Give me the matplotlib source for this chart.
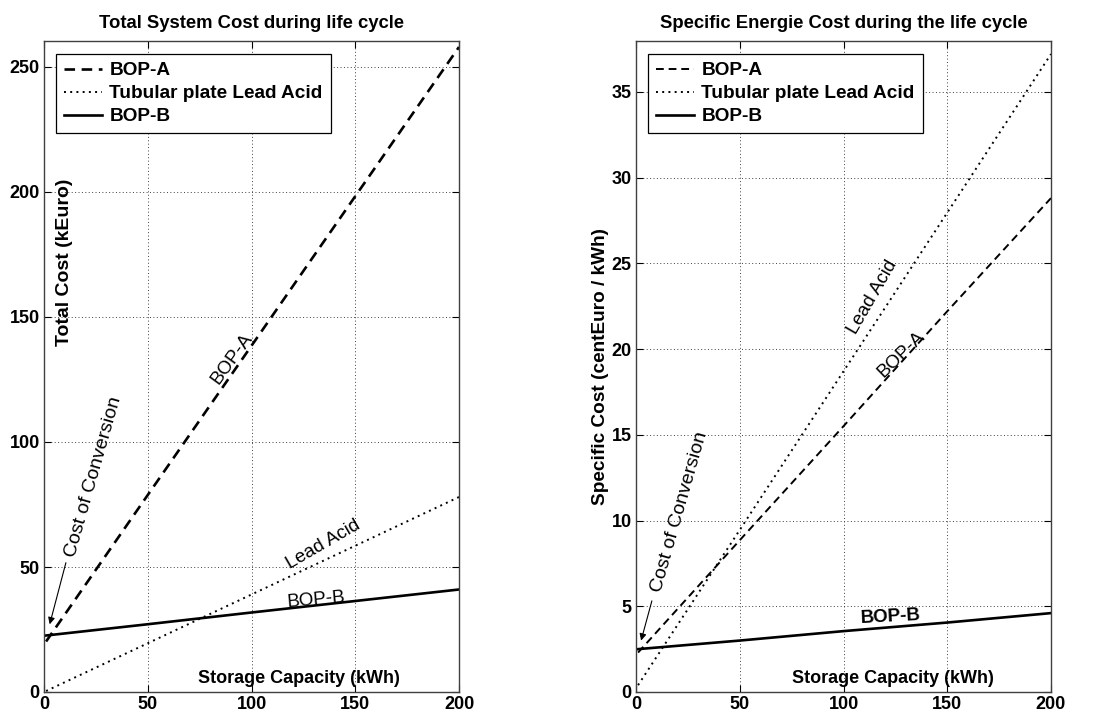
import matplotlib
matplotlib.use("Agg")
import matplotlib.pyplot as plt

plt.rcParams['font.family'] = ['Liberation Sans', 'DejaVu Sans']
plt.rcParams['font.weight'] = 'bold'

# ---- data ----
capacity = [1, 50, 100, 150, 200]

# Total system cost (kEuro)
total_bop_a = [20.2, 78.8, 138.5, 198.3, 258.0]
total_lead = [0.4, 19.5, 39.0, 58.5, 78.0]
total_bop_b = [22.6, 27.1, 31.8, 36.4, 41.0]

# Specific cost (centEuro / kWh)
spec_bop_a = [2.3, 8.85, 15.5, 22.2, 28.8]
spec_lead = [0.4, 9.45, 18.7, 27.95, 37.2]
spec_bop_b = [2.5, 3.0, 3.55, 4.05, 4.6]

legend_labels = ['BOP-A', 'Tubular plate Lead Acid', 'BOP-B']
xticks = [0, 50, 100, 150, 200]
yticks_left = [0, 50, 100, 150, 200, 250]
yticks_right = [0, 5, 10, 15, 20, 25, 30, 35]

fig = plt.figure(figsize=(10.93, 7.13), dpi=100)
ax1 = fig.add_axes([44/1093, 1-692/713, 415/1093, 651/713])
ax2 = fig.add_axes([636/1093, 1-692/713, 415/1093, 651/713])

dash = (0, (4, 2.5))
dot = (0, (1, 2.2))
grid_ls = (0, (1, 2.5))

TICK_FS = 13
LEG_FS = 13.7
ANN_FS = 13.5


def style(ax, yticks, ylim):
    ax.set_xlim(0, 200)
    ax.set_ylim(*ylim)
    ax.set_xticks(xticks)
    ax.set_yticks(yticks)
    ax.tick_params(direction='in', length=5, width=0.8, top=True, right=True,
                   labelsize=TICK_FS, pad=3, colors='black')
    for lab in ax.get_xticklabels() + ax.get_yticklabels():
        lab.set_fontweight('bold')
    ax.grid(True, linestyle=grid_ls, color='0.25', linewidth=0.7)
    for s in ax.spines.values():
        s.set_linewidth(1.0)
        s.set_color('0.25')


def legend(ax, handles):
    leg = ax.legend(handles, legend_labels, loc='upper left',
                    bbox_to_anchor=(0.028, 0.98), fontsize=LEG_FS, handlelength=2.0,
                    handletextpad=0.4, borderpad=0.42, labelspacing=0.3,
                    fancybox=False, framealpha=1, edgecolor='k', borderaxespad=0)
    leg.get_frame().set_linewidth(0.9)
    for t in leg.get_texts():
        t.set_fontweight('bold')
    return leg


# ---- left plot ----
l1, = ax1.plot(capacity, total_bop_a, color='k', linestyle=dash, lw=1.9)
l2, = ax1.plot(capacity, total_lead, color='k', linestyle=dot, lw=1.4)
l3, = ax1.plot(capacity, total_bop_b, color='k', linestyle='-', lw=1.9)
style(ax1, yticks_left, (0, 260.4))
ax1.set_title('Total System Cost during life cycle', fontsize=13.3, fontweight='bold', pad=9)
ax1.text(10.1, 172, 'Total Cost (kEuro)', rotation=90, ha='center', va='center',
         fontsize=14, fontweight='bold')
ax1.text(123, 5.5, 'Storage Capacity (kWh)', ha='center', va='center',
         fontsize=13, fontweight='bold')
ax1.text(23.8, 86, 'Cost of Conversion', rotation=74, ha='center', va='center',
         fontsize=14, fontweight='normal')
ax1.annotate('', xy=(2.4, 26), xytext=(10.9, 52.8),
             arrowprops=dict(arrowstyle='-|>', color='k', lw=0.8, mutation_scale=10))
ax1.text(90.4, 133.5, 'BOP-A', rotation=54, ha='center', va='center',
         fontsize=ANN_FS, fontweight='normal')
ax1.text(134.6, 58.8, 'Lead Acid', rotation=30, ha='center', va='center',
         fontsize=ANN_FS, fontweight='normal')
ax1.text(131.4, 37.0, 'BOP-B', rotation=5, ha='center', va='center',
         fontsize=ANN_FS, fontweight='normal')
legend(ax1, [l1, l2, l3])

# ---- right plot ----
r1, = ax2.plot(capacity, spec_bop_a, color='k', linestyle=dash, lw=1.4)
r2, = ax2.plot(capacity, spec_lead, color='k', linestyle=dot, lw=1.4)
r3, = ax2.plot(capacity, spec_bop_b, color='k', linestyle='-', lw=1.9)
style(ax2, yticks_right, (0, 37.96))
ax2.set_title('Specific Energie Cost during the life cycle', fontsize=13.3, fontweight='bold', pad=9)
ax2.set_ylabel('Specific Cost (centEuro / kWh)', fontsize=13.7, fontweight='bold', labelpad=2)
ax2.text(123.7, 0.8, 'Storage Capacity (kWh)', ha='center', va='center',
         fontsize=13, fontweight='bold')
ax2.text(20.9, 10.5, 'Cost of Conversion', rotation=74, ha='center', va='center',
         fontsize=14, fontweight='normal')
ax2.annotate('', xy=(2.1, 2.84), xytext=(8.0, 5.47),
             arrowprops=dict(arrowstyle='-|>', color='k', lw=0.8, mutation_scale=10))
ax2.text(114.1, 23.0, 'Lead Acid', rotation=60, ha='center', va='center',
         fontsize=ANN_FS, fontweight='normal')
ax2.text(127.7, 19.7, 'BOP-A', rotation=44, ha='center', va='center',
         fontsize=ANN_FS, fontweight='normal')
ax2.text(122.9, 4.4, 'BOP-B', rotation=3, ha='center', va='center',
         fontsize=ANN_FS, fontweight='bold')
legend(ax2, [r1, r2, r3])

fig.savefig('out.png', dpi=100)
